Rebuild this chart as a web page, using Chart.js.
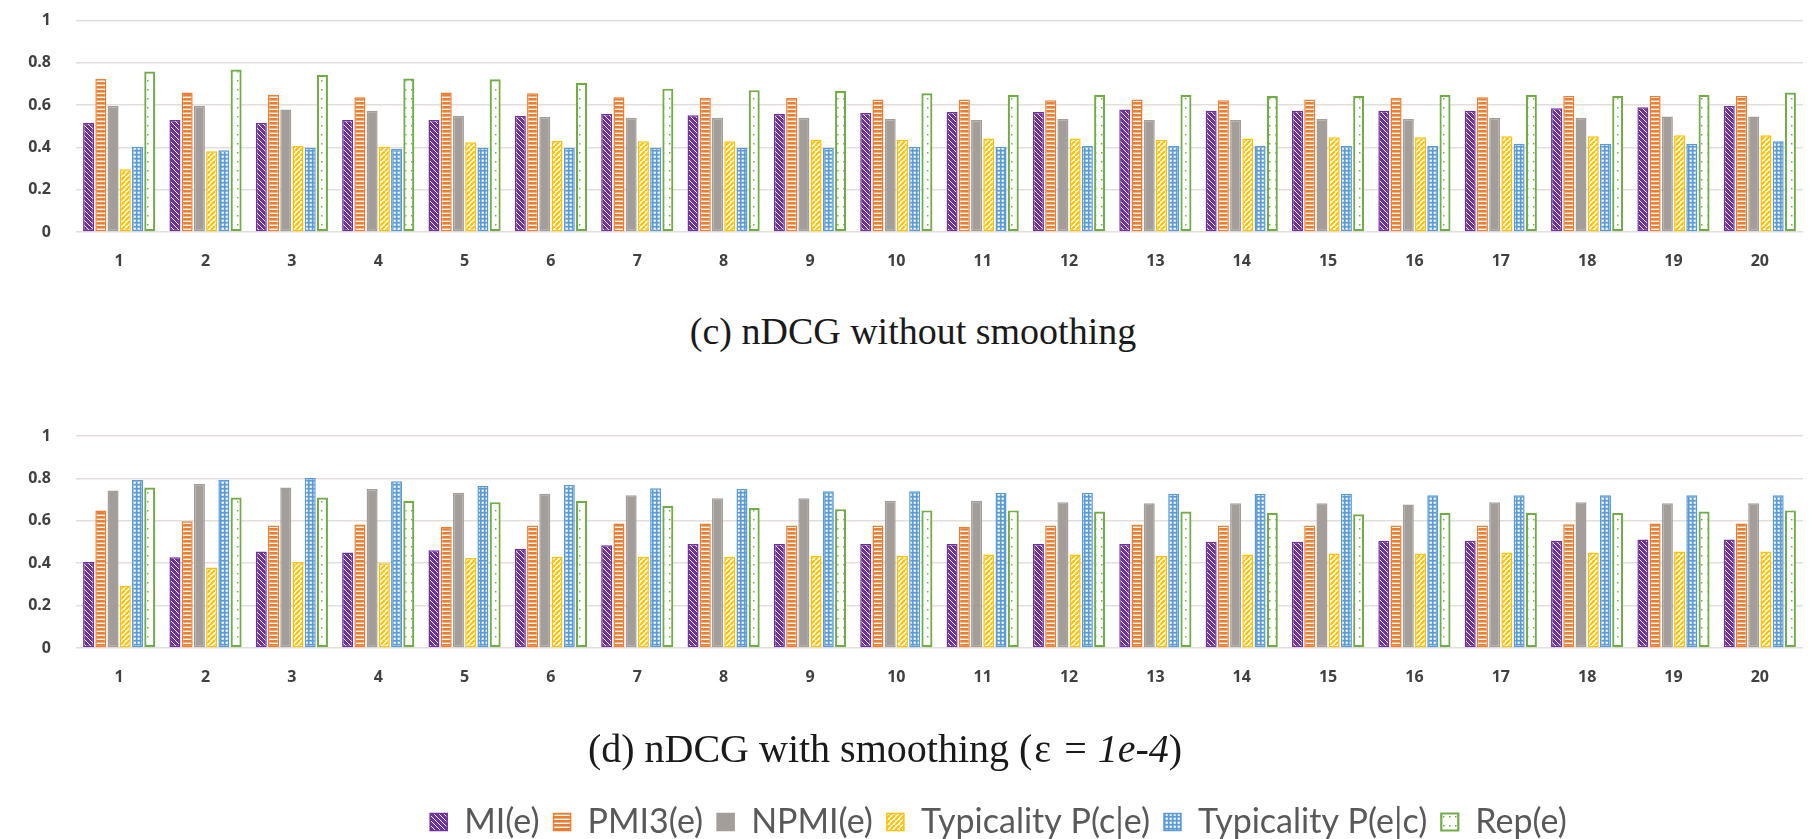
<!DOCTYPE html>
<html><head><meta charset="utf-8">
<script src="https://cdn.jsdelivr.net/npm/chart.js@4.4.0/dist/chart.umd.min.js"></script>
<style>
html,body{margin:0;padding:0;background:#fff;}
body{width:1819px;height:839px;position:relative;overflow:hidden;}
#w1{position:absolute;left:0;top:-14px;width:1819px;height:300px;}
#w2{position:absolute;left:0;top:380px;width:1819px;height:469px;}
.cap{position:absolute;font-family:"Liberation Serif","Times New Roman",serif;font-size:38px;color:#1a1a1a;white-space:nowrap;transform:translate(-50%,-50%);}
</style></head>
<body>
<div id="w1"><canvas id="c1"></canvas></div>
<div class="cap" id="cap1" style="left:913px;top:331px;">(c) nDCG without smoothing</div>
<div id="w2"><canvas id="c2"></canvas></div>
<div class="cap" id="cap2" style="left:885px;top:748px;font-size:40px;">(d) nDCG with smoothing (<span style="padding:0 2px">ε</span><span style="padding:0 11px">=</span><i>1e-4</i>)</div>
<script>
const categories = ['1','2','3','4','5','6','7','8','9','10','11','12','13','14','15','16','17','18','19','20'];
const seriesNames = ['MI(e)','PMI3(e)','NPMI(e)','Typicality P(c|e)','Typicality P(e|c)','Rep(e)'];

// (c) nDCG without smoothing
const miC    = [0.517,0.530,0.517,0.530,0.530,0.550,0.558,0.552,0.558,0.563,0.568,0.568,0.579,0.574,0.574,0.574,0.574,0.585,0.590,0.596];
const pmiC   = [0.725,0.660,0.649,0.637,0.660,0.656,0.638,0.634,0.634,0.627,0.627,0.623,0.627,0.623,0.627,0.634,0.638,0.643,0.643,0.643];
const npmiC  = [0.596,0.596,0.579,0.574,0.550,0.544,0.541,0.541,0.541,0.535,0.530,0.535,0.530,0.530,0.535,0.535,0.541,0.541,0.546,0.546];
const typCEC = [0.297,0.382,0.407,0.403,0.425,0.431,0.429,0.429,0.436,0.436,0.442,0.442,0.436,0.442,0.448,0.448,0.453,0.453,0.458,0.458];
const typECC = [0.403,0.387,0.398,0.393,0.398,0.398,0.398,0.398,0.398,0.403,0.403,0.407,0.407,0.407,0.407,0.407,0.418,0.418,0.418,0.429];
const repC   = [0.759,0.769,0.744,0.726,0.722,0.706,0.678,0.671,0.667,0.656,0.649,0.649,0.649,0.643,0.643,0.649,0.649,0.643,0.649,0.660];

// (d) nDCG with smoothing
const miD    = [0.406,0.428,0.455,0.450,0.461,0.468,0.485,0.490,0.490,0.490,0.490,0.490,0.490,0.501,0.501,0.506,0.506,0.506,0.512,0.512];
const pmiD   = [0.649,0.598,0.578,0.583,0.572,0.578,0.587,0.587,0.578,0.578,0.572,0.578,0.583,0.578,0.578,0.578,0.578,0.584,0.587,0.587];
const npmiD  = [0.743,0.775,0.757,0.750,0.732,0.728,0.721,0.706,0.706,0.694,0.694,0.688,0.683,0.683,0.683,0.677,0.688,0.688,0.683,0.683];
const typCED = [0.294,0.380,0.406,0.400,0.425,0.430,0.430,0.430,0.435,0.435,0.441,0.441,0.435,0.441,0.446,0.446,0.450,0.450,0.455,0.455];
const typECD = [0.792,0.792,0.802,0.787,0.764,0.769,0.754,0.750,0.739,0.739,0.732,0.732,0.728,0.728,0.728,0.721,0.721,0.721,0.721,0.721];
const repD   = [0.757,0.710,0.710,0.694,0.688,0.694,0.671,0.660,0.655,0.649,0.649,0.644,0.644,0.638,0.631,0.638,0.638,0.638,0.644,0.649];

const yTicks = [0,0.2,0.4,0.6,0.8,1];
const yTickLabels = ['0','0.2','0.4','0.6','0.8','1'];

const colors = ['#7030a0','#ed7d31','#a39e9a','#ffc000','#5b9bd5','#70ad47'];

function tile(w,h,draw){
  const c=document.createElement('canvas'); c.width=w; c.height=h;
  const g=c.getContext('2d'); draw(g,w,h);
  return g.createPattern(c,'repeat');
}
function makeFills(){
  return [
    tile(5,5,(g,s)=>{g.fillStyle=colors[0];g.fillRect(0,0,s,s);g.strokeStyle='#ffffff';g.lineWidth=1.0;
      for(const k of [-s,0,s]){g.beginPath();g.moveTo(k,0);g.lineTo(k+s,s);g.stroke();}}),
    tile(4,4,(g,w,h)=>{g.fillStyle=colors[1];g.fillRect(0,0,w,h);g.fillStyle='#ffffff';g.fillRect(0,2.6,w,1.4);}),
    colors[2],
    tile(5,5,(g,s)=>{g.fillStyle='#ffffff';g.fillRect(0,0,s,s);g.strokeStyle=colors[3];g.lineWidth=2.2;
      for(const k of [0,s,2*s]){g.beginPath();g.moveTo(k,0);g.lineTo(k-s,s);g.stroke();}}),
    tile(4,4,(g,w,h)=>{g.fillStyle=colors[4];g.fillRect(0,0,w,h);g.fillStyle='#ffffff';g.fillRect(1.6,1.6,2.2,2.2);}),
    tile(6,9,(g,w,h)=>{g.fillStyle='#ffffff';g.fillRect(0,0,w,h);g.fillStyle=colors[5];g.fillRect(3,4,1.5,1.5);})
  ];
}
const borderWidths=[1.5,1.5,1.5,1.5,1.5,2.2];
const tickFont={family:'"Open Sans", sans-serif',size:16,weight:'bold'};
const tickColor='#404040';

// shift the legend row to the right, as in the reference
const legendShift={id:'legendShift',beforeDraw(chart){
  const L=chart.legend; if(L&&L.options.display){L.left=194;L.right=chart.width-16;}
}};

function makeChart(id, arrs, showLegend, pad, xHeight){
  const fills=makeFills();
  return new Chart(document.getElementById(id),{
    type:'bar',
    data:{labels:categories,datasets:seriesNames.map((n,i)=>({
      label:n,data:arrs[i],backgroundColor:fills[i],borderColor:colors[i],
      borderWidth:borderWidths[i],borderSkipped:false}))},
    options:{
      responsive:true,maintainAspectRatio:false,animation:false,
      layout:{padding:pad},
      datasets:{bar:{categoryPercentage:0.85,barPercentage:0.9}},
      plugins:{
        tooltip:{enabled:false},
        title:{display:false},
        legend:{display:showLegend,position:'bottom',
          labels:{boxWidth:17,boxHeight:17,padding:14,color:'#595959',
            font:{family:'Lato, "Open Sans", sans-serif',size:34}}}
      },
      scales:{
        x:{grid:{display:false},border:{display:false},
          ticks:{font:tickFont,color:tickColor,padding:12,maxRotation:0,autoSkip:false},
          afterFit(s){s.height=xHeight;}},
        y:{min:0,max:1,
          afterBuildTicks(s){s.ticks=yTicks.map(v=>({value:v}));},
          ticks:{font:tickFont,color:tickColor,padding:25,
            callback:(v,i)=>yTickLabels[i]},
          grid:{color:'#e3dedb',lineWidth:1.5,drawTicks:false},
          border:{display:false},
          afterFit(s){s.width=76;}}
      }
    },
    plugins:[legendShift]
  });
}
makeChart('c1',[miC,pmiC,npmiC,typCEC,typECC,repC],false,{top:21,left:0,right:16,bottom:4},50);
makeChart('c2',[miD,pmiD,npmiD,typCED,typECD,repD],true,{top:56,left:0,right:16,bottom:0},143);
</script>
</body></html>
